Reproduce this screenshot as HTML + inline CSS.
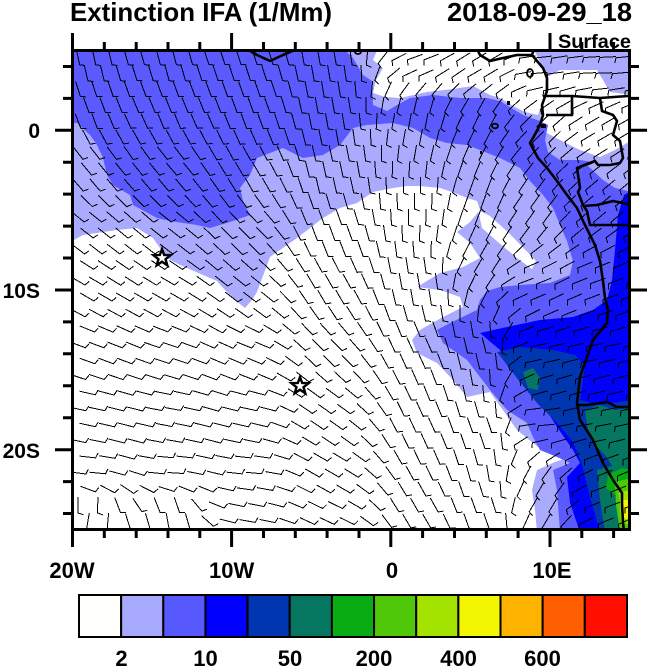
<!DOCTYPE html>
<html>
<head>
<meta charset="utf-8">
<style>
html,body{margin:0;padding:0;background:#fff;}
svg{display:block;}
text{font-family:"Liberation Sans",Arial,Helvetica,sans-serif;font-weight:bold;fill:#000;}
</style>
</head>
<body>
<svg width="650" height="667" viewBox="0 0 650 667" xmlns="http://www.w3.org/2000/svg">
<defs>
<clipPath id="c"><rect x="72.5" y="50.5" width="557" height="479"/></clipPath>
</defs>

<text x="70" y="21" font-size="26" textLength="262" lengthAdjust="spacingAndGlyphs">Extinction IFA (1/Mm)</text>
<text x="447" y="21" font-size="26" textLength="185" lengthAdjust="spacingAndGlyphs">2018-09-29_18</text>
<text x="558" y="48" font-size="19" textLength="73" lengthAdjust="spacingAndGlyphs">Surface</text>

<g clip-path="url(#c)">
<rect x="70" y="48" width="562" height="484" fill="#aaaaff"/>

<polygon fill="#ffffff" points="72,241 83,235 117,230 137,228 153,238 167,258 180,265 203,275 217,281 225,290 235,300 245,308 252,300 257,292 270,257 297,238 323,218 340,208 357,203 373,192 393,188 407,186 420,186 440,188 455,193 467,198 477,201 480,210 470,222 457,232 470,243 480,258 463,267 440,273 417,287 440,290 460,297 463,307 443,317 420,330 412,340 417,353 437,363 453,380 467,397 490,392 503,410 517,430 533,443 545,452 560,453 570,457 555,462 537,470 532,490 535,510 537,532 68,532 68,241"/>
<polygon fill="#ffffff" points="478,210 490,216 510,234 536,261 532,269 517,258 499,243 482,228"/>
<polygon fill="#ffffff" points="378,48 533,48 540,62 546,78 545,92 541,106 538,115 525,112 513,106 500,98 490,95 473,86 453,89 427,92 400,98 385,97 373,93 376,80 383,68 373,60"/>
<polygon fill="#ffffff" points="546,78 560,70 597,70 610,92 632,95 632,140 615,150 600,157 580,150 560,140 545,132 540,122 542,106 547,91"/>

<polygon fill="#5a5aff" points="68,48 343,48 353,58 363,75 372,81 373,105 387,111 397,105 410,98 433,95 460,98 487,98 500,101 523,115 540,121 548,125 545,140 548,152 560,160 580,160 598,163 615,170 632,172 632,532 560,532 557,490 553,470 570,463 557,457 540,450 533,437 527,423 507,410 490,390 480,377 467,360 443,343 437,330 450,323 477,310 480,300 487,291 500,287 520,285 550,283 570,275 573,261 567,241 560,225 553,208 543,195 530,181 520,168 500,158 480,150 467,145 447,143 430,138 413,128 393,123 367,125 353,128 340,145 323,155 303,158 283,148 257,158 250,175 240,188 243,201 250,215 233,221 210,228 197,225 170,221 157,218 133,205 130,195 113,185 107,175 103,158 97,145 90,135 77,123 68,123"/>
<polygon fill="#aaaaff" points="588,166 600,160 632,160 632,192 615,188 603,180"/>

<polygon fill="#0000ff" points="480,333 507,327 540,320 573,317 593,310 607,300 612,280 615,250 618,215 624,195 632,190 632,532 580,532 570,503 567,477 580,463 573,450 557,427 540,400 517,377 500,350"/>
<polygon fill="#0036b0" points="497,352 520,347 553,350 575,355 585,365 580,400 600,405 632,400 632,532 600,532 590,497 582,465 573,442 557,423 537,403 520,382"/>
<polygon fill="#057760" points="523,372 533,368 540,378 538,390 528,388"/>
<polygon fill="#057760" points="585,410 600,405 615,410 632,408 632,470 615,470 605,455 595,445 588,430"/>
<polygon fill="#057760" points="597,470 615,465 632,470 632,532 605,532 600,500"/>
<polygon fill="#09ac12" points="608,475 622,468 632,470 632,500 618,497 606,488"/>
<polygon fill="#50c80a" points="615,482 632,478 632,532 620,532 616,505"/>
<polygon fill="#a4e200" points="619,492 632,490 632,525 621,522"/>
<polygon fill="#f2f600" points="622,500 632,500 632,520 623,518"/>

<path id="barbs" fill="none" stroke="#000" stroke-width="1" shape-rendering="crispEdges" d=""/>

<g fill="none" stroke="#000" stroke-width="2.6" stroke-linejoin="round">
<polyline points="477,49 480,55 490,61 503,58 517,55 532,55 537,61 543,68 547,78 547,91 542,105 543,115 540,125 533,138 530,143 538,158 547,168 557,181 567,195 577,208 583,221 588,231 595,245 600,261 603,281 605,298 608,310 607,323 593,340 587,357 580,377 577,403 580,420 593,440 603,463 613,480 622,493 622,503 623,523 624,531"/>
<polyline points="532,55 534,49"/>
<polyline points="247,49 257,55 270,61 283,55 297,49"/>
<polyline points="543,96 572,96 572,115 546,115"/>
<polyline points="572,96 600,98 628,96 632,96"/>
<polyline points="600,98 602,111 613,115 617,121 613,135 620,141 623,158 620,163 610,165 598,165 595,161 577,168 580,188 578,192 583,205 587,211 590,225 632,225"/>
<polyline points="583,206 597,205 613,201 632,205"/>
<polyline points="577,405 587,405 607,402 617,407 632,407"/>
<ellipse cx="530" cy="73" rx="3" ry="4" stroke-width="1.8"/>
<ellipse cx="495" cy="126" rx="3" ry="2.3" stroke-width="1.8"/>
<ellipse cx="358" cy="52" rx="3" ry="2" stroke-width="1.8"/>
</g>
<rect x="507" y="101" width="3" height="4" fill="#000"/>
<rect x="480" y="151" width="2" height="3" fill="#000"/>
<rect x="541" y="124" width="5" height="4" fill="#000"/>

<g fill="#fff" stroke="#000" stroke-width="2.4" stroke-linejoin="miter">
<polygon transform="translate(162,258)" points="0,-9 2.17,-2.99 8.56,-2.78 3.52,1.14 5.29,7.28 0,3.7 -5.29,7.28 -3.52,1.14 -8.56,-2.78 -2.17,-2.99"/>
<polygon transform="translate(300,386)" points="0,-9 2.17,-2.99 8.56,-2.78 3.52,1.14 5.29,7.28 0,3.7 -5.29,7.28 -3.52,1.14 -8.56,-2.78 -2.17,-2.99"/>
</g>
</g>

<rect x="72.5" y="50.5" width="557" height="479" fill="none" stroke="#000" stroke-width="3"/>

<g stroke="#000" stroke-width="3" fill="none">
<path d="M72.5 50.5V33 M231.6 50.5V33 M390.8 50.5V33 M550 50.5V33
M104.3 50.5V42 M136.2 50.5V42 M168 50.5V42 M199.8 50.5V42 M263.5 50.5V42 M295.3 50.5V42 M327.1 50.5V42 M359 50.5V42 M422.6 50.5V42 M454.5 50.5V42 M486.3 50.5V42 M518.1 50.5V42 M581.8 50.5V42 M613.6 50.5V42"/>
<path d="M72.5 529.5V547 M231.6 529.5V547 M390.8 529.5V547 M550 529.5V547
M104.3 529.5V538 M136.2 529.5V538 M168 529.5V538 M199.8 529.5V538 M263.5 529.5V538 M295.3 529.5V538 M327.1 529.5V538 M359 529.5V538 M422.6 529.5V538 M454.5 529.5V538 M486.3 529.5V538 M518.1 529.5V538 M581.8 529.5V538 M613.6 529.5V538"/>
<path d="M72.5 130.3H55 M72.5 290H55 M72.5 449.7H55
M72.5 66.5H63 M72.5 98.4H63 M72.5 162.2H63 M72.5 194.1H63 M72.5 226.1H63 M72.5 258H63 M72.5 321.9H63 M72.5 353.8H63 M72.5 385.7H63 M72.5 417.7H63 M72.5 481.6H63 M72.5 513.5H63"/>
<path d="M629.5 130.3H647 M629.5 290H647 M629.5 449.7H647
M629.5 66.5H639 M629.5 98.4H639 M629.5 162.2H639 M629.5 194.1H639 M629.5 226.1H639 M629.5 258H639 M629.5 321.9H639 M629.5 353.8H639 M629.5 385.7H639 M629.5 417.7H639 M629.5 481.6H639 M629.5 513.5H639"/>
</g>

<g font-size="21" text-anchor="end">
<text x="40" y="138">0</text>
<text x="40" y="298">10S</text>
<text x="40" y="458">20S</text>
</g>
<g font-size="22" text-anchor="middle">
<text x="72" y="578">20W</text>
<text x="231.6" y="578">10W</text>
<text x="392" y="578">0</text>
<text x="552" y="578">10E</text>
</g>

<g stroke="#000" stroke-width="2">
<rect x="79" y="595" width="42.15" height="42" fill="#fefefb"/>
<rect x="121.15" y="595" width="42.15" height="42" fill="#a8aaff"/>
<rect x="163.3" y="595" width="42.15" height="42" fill="#5858ff"/>
<rect x="205.45" y="595" width="42.15" height="42" fill="#0000ff"/>
<rect x="247.6" y="595" width="42.15" height="42" fill="#0036b0"/>
<rect x="289.75" y="595" width="42.15" height="42" fill="#057760"/>
<rect x="331.9" y="595" width="42.15" height="42" fill="#09ac12"/>
<rect x="374.05" y="595" width="42.15" height="42" fill="#50c80a"/>
<rect x="416.2" y="595" width="42.15" height="42" fill="#a4e200"/>
<rect x="458.35" y="595" width="42.15" height="42" fill="#f2f600"/>
<rect x="500.5" y="595" width="42.15" height="42" fill="#ffb300"/>
<rect x="542.65" y="595" width="42.15" height="42" fill="#ff5f00"/>
<rect x="584.8" y="595" width="42.2" height="42" fill="#ff0f00"/>
</g>
<g font-size="22" text-anchor="middle">
<text x="121.5" y="666">2</text>
<text x="205.5" y="666">10</text>
<text x="290" y="666">50</text>
<text x="374" y="666">200</text>
<text x="458.5" y="666">400</text>
<text x="542.5" y="666">600</text>
</g>
</svg>
<script>
(function(){
var A=[[90,60,78],[170,60,75],[250,60,72],[330,60,80],
[90,110,70],[170,110,68],[250,110,70],[330,110,80],
[90,170,50],[170,170,50],[250,170,60],[330,170,78],
[90,230,38],[170,230,38],[250,230,45],[330,230,70],
[90,290,30],[170,290,30],[250,290,38],[330,290,60],
[90,350,20],[170,350,18],[250,350,22],[330,350,45],
[90,410,12],[170,410,10],[250,410,12],[330,410,35],
[90,470,5],[170,470,3],[250,470,5],[330,470,30],
[90,520,100],[170,520,80],[250,520,10],[330,520,25],
[420,60,160],[480,70,150],[540,70,175],[600,70,178],
[420,120,100],[480,120,115],[540,130,135],[600,130,150],
[420,200,90],[480,200,110],[530,210,125],[600,200,140],
[420,280,80],[480,260,120],[530,280,160],[600,280,160],
[420,350,65],[480,350,75],[540,350,170],[600,350,170],
[420,430,65],[480,430,70],[540,420,175],[600,420,170],
[420,510,60],[480,510,70],[540,500,120],[600,500,160]];
function ang(x,y){var sx=0,sy=0;for(var i=0;i<A.length;i++){var a=A[i];var dx=x-a[0],dy=y-a[1];var d2=dx*dx+dy*dy+60;var w=1/(d2*Math.sqrt(d2));var r=a[2]*Math.PI/180;sx+=w*Math.cos(r);sy+=w*Math.sin(r);}return Math.atan2(sy,sx);}
var d='';
for(var y=57;y<534;y+=16){var dx=16+4*(y-50)/480;var off=(Math.round((y-57)/16)%2)*dx*0.5;for(var x=78+off;x<636;x+=dx){var a=ang(x,y);var c=Math.cos(a),s=Math.sin(a);var L=8;
var x0=x-L*c,y0=y-L*s,x1=x+L*c,y1=y+L*s;var t=a-70*Math.PI/180;var x2=x1+5.5*Math.cos(t),y2=y1+5.5*Math.sin(t);
d+='M'+x0.toFixed(1)+' '+y0.toFixed(1)+'L'+x1.toFixed(1)+' '+y1.toFixed(1)+'L'+x2.toFixed(1)+' '+y2.toFixed(1);}}
document.getElementById('barbs').setAttribute('d',d);
})();
</script>
</body>
</html>
